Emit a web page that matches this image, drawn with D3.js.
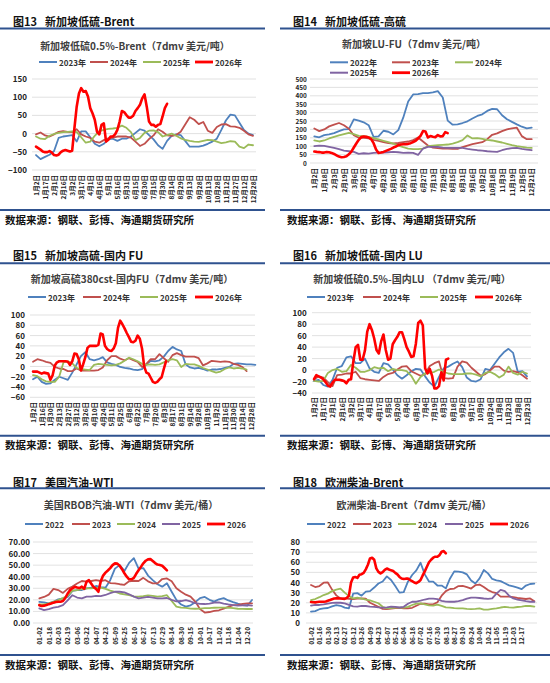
<!DOCTYPE html>
<html>
<head>
<meta charset="utf-8">
<script src="https://cdn.jsdelivr.net/npm/d3@7"></script>
<style>
  body { margin: 0; background: #fff; }
  svg { display: block; }
  text { font-family: "Noto Sans CJK SC", "Liberation Sans", sans-serif; }
</style>
</head>
<body>
<svg id="page" width="550" height="683"></svg>
<script>
// ---- data (label index is the x unit; plain series every 0.5 label, 2026 every 0.25) ----
const fig13Labels = ['1月2日','1月17日','2月1日','2月16日','3月2日','3月17日','4月1日','4月16日','5月1日','5月16日','5月31日','6月15日','6月30日','7月15日','7月30日','8月14日','8月29日','9月13日','9月28日','10月13日','10月28日','11月12日','11月27日','12月12日','12月28日'];
const fig13_2023 = [-59,-70,-64,-58,-48,-12,-8,-6,-4,-22,6,6,-10,-28,-35,-28,-16,-14,-20,-14,-14,-8,2,12,8,-4,-16,-32,-42,-20,-6,-2,-4,-20,-36,-36,-36,-33,-28,-22,-14,10,36,52,50,30,10,0,-4];
const fig13_2024 = [-2,3,-5,-8,-2,5,7,5,4,12,-2,-8,-12,-22,-25,-18,-13,-11,-8,-8,-8,-11,-22,-34,-28,-15,-5,12,5,-5,-6,-4,5,25,45,38,26,32,8,2,18,25,26,20,19,16,8,-2,-6];
const fig13_2025 = [-8,-14,-15,-6,-1,2,4,5,6,4,-10,-25,-22,-6,7,10,13,14,16,22,16,4,-18,-12,2,8,9,4,-8,-4,0,-6,-13,-17,-20,-22,-23,-20,-17,-18,-22,-26,-24,-21,-22,-36,-40,-30,-32];
const fig13_2026 = [-36,-40,-44,-49,-51,-51,-48,-52,-59,-60,-58,-51,-47,-45,-47,-49,-47,15,74,110,125,115,117,102,70,56,38,5,-2,24,28,-22,-17,-8,-8,-2,10,33,62,59,51,44,44,49,62,70,79,97,108,74,33,24,24,19,24,26,47,70,82];

const fig14Labels = ['1月2日','1月18日','2月3日','2月19日','3月6日','3月22日','4月7日','4月23日','5月10日','5月26日','6月11日','6月27日','7月13日','7月29日','8月15日','8月31日','9月16日','10月2日','10月18日','11月3日','11月19日','12月5日','12月21日'];
const fig14_2022 = [158,153,166,170,178,190,200,202,260,252,242,225,156,158,192,186,170,196,270,366,408,410,416,416,420,428,390,252,228,230,238,248,265,280,290,310,322,320,284,260,245,230,216,206,210];
const fig14_2023 = [205,190,200,218,228,238,225,204,165,150,150,147,138,132,124,118,116,119,124,128,136,152,128,104,92,88,86,86,84,84,94,104,112,118,124,142,168,176,190,200,206,210,160,142,142];
const fig14_2024 = [135,128,134,146,156,164,172,180,172,162,160,156,148,140,132,124,116,104,94,86,82,82,86,100,104,106,108,110,116,124,136,164,146,148,144,138,134,128,122,114,106,100,96,92,90];
const fig14_2025 = [100,104,102,96,90,82,74,70,66,54,58,56,60,62,62,64,66,64,60,62,60,48,86,96,96,96,92,90,90,90,90,84,80,76,74,70,68,66,76,84,88,90,84,80,76];
const fig14_2026 = [68,66,65,62,62,65,64,60,54,46,38,34,36,40,52,68,92,116,138,154,158,156,152,142,118,80,60,62,66,72,78,84,92,98,106,110,112,112,114,118,125,132,146,162,190,188,152,160,156,154,166,158,160,184,178];

const fig15Labels = ['1月2日','1月16日','1月30日','2月13日','2月27日','3月12日','3月26日','4月10日','4月24日','5月11日','5月25日','6月8日','6月22日','7月6日','7月20日','8月3日','8月17日','8月31日','9月14日','9月28日','10月19日','11月2日','11月16日','11月30日','12月14日','12月28日'];
const fig15_2023 = [-25,-20,-30,-34,-33,-26,-20,-23,-26,-12,4,20,28,14,12,14,18,8,5,3,-1,-3,-4,-6,-7,-5,4,11,10,12,19,30,38,33,30,4,-2,-4,-3,-5,-8,-6,-6,-5,-3,-1,5,6,5,4,4,3];
const fig15_2024 = [9,14,12,9,7,-1,-4,-5,-9,-9,-4,-8,-8,-8,-8,-7,-2,12,20,20,15,12,16,12,9,-1,5,14,14,24,16,9,22,26,22,19,19,19,16,2,6,11,10,9,10,9,5,3,-1,-9];
const fig15_2025 = [-17,-19,-25,-29,-30,-30,-20,8,10,6,-3,-5,-6,-7,3,5,4,3,2,3,6,11,17,14,10,5,3,4,3,4,8,12,14,12,-1,5,4,4,1,-3,-6,-9,-12,-10,-5,-2,-4,-3,-4,-6];
const fig15_2026 = [-10,-10,-10,-12,-14,-12,-13,-14,-26,-17,2,8,10,10,10,10,9,3,10,25,24,14,-8,4,18,36,40,40,40,40,42,64,62,40,34,31,30,35,45,75,89,82,74,65,57,48,47,50,60,54,35,0,-12,-14,-22,-30,-32,-30,-25,-21,-5,10];

const fig16Labels = ['1月2日','1月17日','2月1日','2月16日','3月2日','3月17日','4月1日','4月17日','5月5日','5月20日','6月4日','6月19日','7月4日','7月19日','8月3日','8月18日','9月2日','9月17日','10月9日','10月24日','11月8日','11月23日','12月8日','12月23日'];
const fig16_2023 = [-19,-17,-26,-29,-17,4,7,22,24,12,12,20,3,-3,-5,12,10,1,-9,-15,-9,-2,2,1,-11,-22,-29,-12,3,6,11,15,5,-13,-19,-20,-16,2,0,11,22,31,37,30,-3,-2,-11];
const fig16_2024 = [-16,-11,-13,-21,-28,-9,-8,-6,-6,-3,-14,-16,-17,-18,-19,-12,-7,-5,1,6,7,-2,-6,-10,-7,7,12,15,-14,-15,-14,6,15,13,4,-3,-10,-7,-1,6,6,-1,-3,-2,-4,-9,-15];
const fig16_2025 = [-19,-20,-19,-5,0,2,-3,-2,9,4,-3,-3,0,5,3,4,-2,2,0,0,-2,-10,-24,-12,-6,-5,-3,1,-3,-6,-7,-7,-7,-6,-6,-8,-11,-5,-3,-7,-13,-8,6,-5,-8,-3,-6];
const fig16_2026 = [-16,-9,-11,-13,-16,-21,-27,-29,-22,-17,-17,-17,-18,-19,-23,-17,-16,15,40,44,18,18,34,67,80,70,55,35,29,50,62,35,18,20,45,52,58,66,66,54,40,32,23,24,46,82,86,78,3,-6,2,-10,-32,-32,-28,-4,-18,18,20];

const fig17Labels = ['01-02','01-18','02-03','02-19','03-06','03-22','04-07','04-23','05-09','05-25','06-10','06-27','07-13','07-29','08-14','08-30','09-15','10-01','10-17','11-02','11-18','12-04','12-20'];
const fig17_2022 = [18.3,17.8,17,18.4,20.5,21.2,22.5,27.8,28.5,28.5,30,30.5,32,31,30.5,37,47,50,45,52,56,47,47.5,41,37,33.5,31.4,34.3,27,20,16,14.2,15.3,18,21.5,22.5,20,18.5,20.5,21.5,19.5,18,16.7,15.5,15,19.9];
const fig17_2023 = [21.3,22.5,24.5,29.5,28.5,26,29.5,31.5,34.2,36.3,35.7,36.3,37,36.3,37,34.5,34.3,33.5,33,36,36.5,36.3,39,36,34.3,34.3,38,38.5,36,30,27,24.5,22.8,18.5,12,9,9.5,10.4,11,12.5,14,15.5,15.6,16.5,17,17];
const fig17_2024 = [16,16,17,18.3,19.8,21.5,23.5,28,28.5,29.3,30,30,30.3,30.5,29.5,28,27,25.5,24.8,24,23,22.8,23.2,23.8,23.5,22.8,23.2,24,19,14.2,13.3,13,12.5,12.3,12.5,12.8,12.8,13.2,13.3,13.3,13.2,12.8,12.3,12.2,12.1,12.1];
const fig17_2025 = [12.7,11.2,12,13.2,14,15.4,19.5,24,22,21.3,22.8,22.8,23.5,23.2,24.2,25.8,27,27,26.5,24.8,22.8,21.3,21.9,22.6,22,21.3,21.3,21.6,20,18.6,19,19.8,18.6,17.2,16.5,16.4,16.8,17.7,17.8,16.8,16,15.4,15,15.2,15.4,15];
const fig17_2026 = [15.4,14.7,15,15.5,16.3,16.8,17.6,18.2,18.4,18.4,19,21.6,25.5,28.4,30,31.3,30.6,30.2,31.4,29.5,35.7,37,34,31,29.5,27,36,41,43.5,45.4,47.4,50,51.5,51.3,49.5,46.5,43,40,37.8,37.8,39,42.5,45.5,48.5,51.6,53.8,55,55.2,53.6,51.8,50.5,50.1,49.5,47.5,45.5];

const fig18Labels = ['01-02','01-16','01-30','02-13','02-27','03-12','03-26','04-09','04-23','05-07','05-21','06-04','06-18','07-02','07-16','07-30','08-13','08-27','09-10','09-24','10-08','10-22','11-05','11-19','12-03','12-17'];
const fig18_2022 = [11.2,11.8,13.6,14.4,14.8,16.5,17.7,17,15.2,14.5,29,29.5,27,30.9,31.5,35,39,41,46,42.5,36.5,30,30.5,40.8,47.4,52,59.5,48,41,40.8,37,37,34.2,44,51,50.7,50,48,42,39,44,52.3,49,43.5,42.2,41.3,39.3,37.2,36.2,35,33.4,37,38.5,38.8];
const fig18_2023 = [37.5,35.5,36.5,39.8,40,33,27.3,24.3,24.3,23.8,23.7,24,24.3,24,20,18,16,14,13.8,14.2,14.8,15,14.5,14.5,15,17,19,19,18.4,18.4,20.5,27,31.5,33.6,34,36.5,36.7,35.5,34,37.3,38,35.5,32.5,30.6,29.5,26,26,26,25.5,24.7,24.2,23.7,24.3,21.5];
const fig18_2024 = [22.7,23.7,25.5,27.6,29,31.5,33,34,30,26.5,24.3,25,24,23,22.3,21,19.5,16,14.5,14.8,15.1,15.1,15.1,16,17.8,19.2,19.4,18.5,17.5,17.1,18.2,17,15.5,15.1,14.6,14.5,14.4,14,13.8,14,14.5,13.2,13.2,14,14.5,15.3,16,15.5,15.2,15.8,16.2,17,16.8,16.1];
const fig18_2025 = [17.1,17.8,17.8,18.4,19.2,19.8,20,20,19.4,17.9,16.5,16.1,16.9,16.8,16.1,16,15.4,15.1,15.5,16.1,16,15.3,16,19,21,21,22,23.2,24,24,23.5,21.9,21.2,21,21,21.7,22.5,24,25,25,24.7,24.2,23.8,24.3,29,32.8,31.5,27,24.3,23.2,22.4,21.5,21,21];
const fig18_2026 = [20.8,20.5,20.4,20.7,21,21,21,21.3,22,22.7,23.5,24.2,24.3,24.3,24.2,24,23.8,24.8,27,40,45,45.5,44.5,47.6,48.2,49.5,53,57.5,63.8,64.5,62.5,54,50.5,49,50.3,52.5,53.8,52.8,52,51.3,49.5,48,45.5,44,43.4,43.8,44,42.4,41.3,40,39.3,40.5,42.4,47,51,55.5,60,62.5,64.5,65.5,65.5,67,70.4,71,68.8];

const SOURCE = '数据来源：钢联、彭博、海通期货研究所';
const PALETTE = ['#4F81BD', '#C0504D', '#9BBB59', '#8064A2'];
const RED = '#FF0000';

// rows: figure title, rules and source line
const rows = [
    {figY: 20.5, ruleTop: 28.5, ruleBottom: 210, sourceY: 219},
    {figY: 255, ruleTop: 263.3, ruleBottom: 435.7, sourceY: 444.5},
    {figY: 481.7, ruleTop: 488.3, ruleBottom: 655, sourceY: 664}
];
const sides = {
    L: {ruleX0: 0, ruleX1: 265, figX: 13, sourceX: 5},
    R: {ruleX0: 280, ruleX1: 550, figX: 293, sourceX: 287}
};

const panels = [
    {row: 0, side: 'L', fig: '图13', name: '新加坡低硫-Brent', title: '新加坡低硫0.5%-Brent（7dmv 美元/吨）',
     titleX: 135, titleY: 45.5, labels: fig13Labels,
     series: [['2023年', fig13_2023], ['2024年', fig13_2024], ['2025年', fig13_2025], ['2026年', fig13_2026]],
     legend: [[39, 62], [90, 62], [143, 62], [195, 62]],
     yDomain: [-100, 150], yStep: 50, fmt: d3.format('d'), yFont: 8,
     yTop: 79, yBottom: 170, x0: 36, x1: 253, gx0: 32, gx1: 256, yLabelX: 27, xLabelY: 175},
    {row: 0, side: 'R', fig: '图14', name: '新加坡低硫-高硫', title: '新加坡LU-FU（7dmv 美元/吨）',
     titleX: 414, titleY: 43, labels: fig14Labels,
     series: [['2022年', fig14_2022], ['2023年', fig14_2023], ['2024年', fig14_2024], ['2025年', fig14_2025], ['2026年', fig14_2026]],
     legend: [[330, 62.3], [392, 62.3], [455, 62.3], [330, 72.7], [392, 72.7]],
     yDomain: [0, 500], yStep: 50, fmt: d3.format('d'), yFont: 6.4,
     yTop: 79, yBottom: 163, x0: 314.3, x1: 531.7, gx0: 310, gx1: 538, yLabelX: 306.7, xLabelY: 168},
    {row: 1, side: 'L', fig: '图15', name: '新加坡高硫-国内 FU', title: '新加坡高硫380cst-国内FU（7dmv 美元/吨）',
     titleX: 132, titleY: 278, labels: fig15Labels,
     series: [['2023年', fig15_2023], ['2024年', fig15_2024], ['2025年', fig15_2025], ['2026年', fig15_2026]],
     legend: [[28, 297], [83, 297], [140, 297], [195, 297]],
     yDomain: [-60, 100], yStep: 20, fmt: d3.format('d'), yFont: 8,
     yTop: 315, yBottom: 397.3, x0: 33, x1: 251, gx0: 30, gx1: 255, yLabelX: 25, xLabelY: 402},
    {row: 1, side: 'R', fig: '图16', name: '新加坡低硫-国内 LU', title: '新加坡低硫0.5%-国内LU （7dmv 美元/吨）',
     titleX: 412, titleY: 278, labels: fig16Labels,
     series: [['2023年', fig16_2023], ['2024年', fig16_2024], ['2025年', fig16_2025], ['2026年', fig16_2026]],
     legend: [[307, 297], [363, 297], [420, 297], [475, 297]],
     yDomain: [-40, 100], yStep: 20, fmt: d3.format('d'), yFont: 8,
     yTop: 312.7, yBottom: 393, x0: 314, x1: 527, gx0: 312, gx1: 531, yLabelX: 306.7, xLabelY: 397},
    {row: 2, side: 'L', fig: '图17', name: '美国汽油-WTI', title: '美国RBOB汽油-WTI（7dmv 美元/桶）',
     titleX: 131, titleY: 504, labels: fig17Labels,
     series: [['2022', fig17_2022], ['2023', fig17_2023], ['2024', fig17_2024], ['2025', fig17_2025], ['2026', fig17_2026]],
     legend: [[25, 524], [72, 524], [117, 524], [162, 524], [207, 524]],
     yDomain: [0, 70], yStep: 10, fmt: d3.format('.2f'), yFont: 8,
     yTop: 542, yBottom: 623, x0: 39.3, x1: 247.3, gx0: 33, gx1: 253, yLabelX: 30, xLabelY: 627},
    {row: 2, side: 'R', fig: '图18', name: '欧洲柴油-Brent', title: '欧洲柴油-Brent（7dmv 美元/桶）',
     titleX: 414, titleY: 504, labels: fig18Labels,
     series: [['2022', fig18_2022], ['2023', fig18_2023], ['2024', fig18_2024], ['2025', fig18_2025], ['2026', fig18_2026]],
     legend: [[307, 524], [353, 524], [398, 524], [445, 524], [490, 524]],
     yDomain: [0, 80], yStep: 10, fmt: d3.format('d'), yFont: 8,
     yTop: 542, yBottom: 623, x0: 311, x1: 521.7, gx0: 306, gx1: 537, yLabelX: 300, xLabelY: 627}
];

const svg = d3.select('#page');

function drawPanel(p) {
    const r = rows[p.row], s = sides[p.side];
    const g = svg.append('g');
    const last = p.series.length - 1;
    const colorOf = i => i === last ? RED : PALETTE[i];
    const widthOf = i => i === last ? 2.6 : 1.8;

    // header, rules, source
    const head = g.append('text')
        .attr('x', s.figX).attr('y', r.figY)
        .attr('dominant-baseline', 'central')
        .attr('font-size', 11).attr('font-weight', 'bold').attr('fill', '#111');
    head.append('tspan').text(p.fig);
    head.append('tspan').attr('x', s.figX + 32).text(p.name);
    [r.ruleTop, r.ruleBottom].forEach(y => {
        g.append('line')
            .attr('x1', s.ruleX0).attr('x2', s.ruleX1).attr('y1', y).attr('y2', y)
            .attr('stroke', '#2F528F').attr('stroke-width', 2);
    });
    g.append('text')
        .attr('x', s.sourceX).attr('y', r.sourceY)
        .attr('dominant-baseline', 'central')
        .attr('font-size', 10.5).attr('font-weight', 'bold').attr('fill', '#111')
        .text(SOURCE);

    // chart title
    g.append('text')
        .attr('x', p.titleX).attr('y', p.titleY)
        .attr('text-anchor', 'middle').attr('dominant-baseline', 'central')
        .attr('font-size', 10).attr('font-weight', 'bold').attr('fill', '#404040')
        .text(p.title);

    // legend
    p.series.forEach(([name], i) => {
        const [lx, ly] = p.legend[i];
        g.append('line')
            .attr('x1', lx).attr('x2', lx + 18).attr('y1', ly).attr('y2', ly)
            .attr('stroke', colorOf(i)).attr('stroke-width', widthOf(i) + 0.2);
        g.append('text')
            .attr('x', lx + 20).attr('y', ly)
            .attr('dominant-baseline', 'central')
            .attr('font-size', 8).attr('font-weight', 'bold').attr('fill', '#333')
            .text(name);
    });

    const x = d3.scaleLinear().domain([0, p.labels.length - 1]).range([p.x0, p.x1]);
    const y = d3.scaleLinear().domain(p.yDomain).range([p.yBottom, p.yTop]);
    const ticks = d3.range(p.yDomain[0], p.yDomain[1] + 0.001, p.yStep);

    // gridlines
    g.append('g').selectAll('line')
        .data(ticks)
        .enter()
        .append('line')
        .attr('x1', p.gx0).attr('x2', p.gx1)
        .attr('y1', d => y(d)).attr('y2', d => y(d))
        .attr('stroke', '#D9D9D9').attr('stroke-width', 0.8);

    // y axis
    const yAxis = g.append('g')
        .attr('transform', `translate(${p.yLabelX},0)`)
        .call(d3.axisLeft(y).tickValues(ticks).tickSize(0).tickPadding(0).tickFormat(p.fmt));
    yAxis.select('.domain').remove();
    yAxis.selectAll('text')
        .attr('font-size', p.yFont).attr('font-weight', 'bold').attr('fill', '#222')
        .attr('font-family', '"Liberation Sans", Arial, sans-serif');

    // x axis, labels rotated to read upwards
    const xAxis = g.append('g')
        .attr('transform', `translate(0,${p.xLabelY})`)
        .call(d3.axisBottom(x).tickValues(d3.range(p.labels.length)).tickSize(0).tickFormat(i => p.labels[i]));
    xAxis.select('.domain').remove();
    xAxis.selectAll('text')
        .attr('transform', 'rotate(-90)')
        .attr('x', 0).attr('y', 0).attr('dy', '0.35em')
        .attr('text-anchor', 'end')
        .attr('font-size', 6.5).attr('font-weight', 'bold').attr('fill', '#222');

    // series lines
    p.series.forEach(([name, values], i) => {
        const step = i === last ? 0.25 : 0.5;
        const line = d3.line()
            .x((d, k) => x(k * step))
            .y(d => y(d))
            .curve(d3.curveLinear);
        g.append('path')
            .attr('d', line(values))
            .attr('fill', 'none')
            .attr('stroke', colorOf(i))
            .attr('stroke-width', widthOf(i))
            .attr('stroke-linejoin', 'round')
            .attr('stroke-linecap', 'round');
    });
}

panels.forEach(drawPanel);
</script>
</body>
</html>
